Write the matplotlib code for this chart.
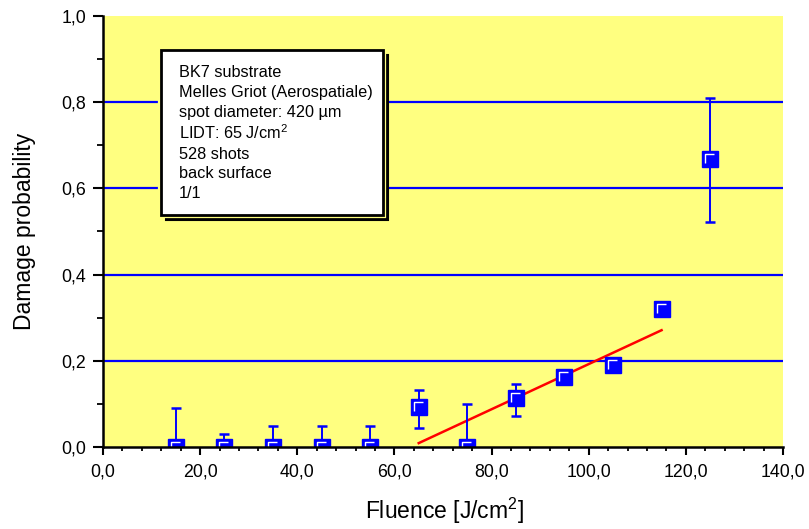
import matplotlib
matplotlib.use("Agg")
import matplotlib.pyplot as plt
from matplotlib.path import Path
from matplotlib.patches import Rectangle
from matplotlib.ticker import MultipleLocator, FuncFormatter
import matplotlib.transforms as mtransforms

plt.rcParams['font.family'] = ['Liberation Sans', 'DejaVu Sans']
plt.rcParams['mathtext.default'] = 'regular'

# Measured damage probability per fluence level
fluence = [15, 25, 35, 45, 55, 65, 75, 85, 95, 105, 115, 125]
probability = [0.0, 0.0, 0.0, 0.0, 0.0, 0.0935, 0.0, 0.113, 0.163, 0.19, 0.32, 0.668]
err_low = [0.0, 0.0, 0.0, 0.0, 0.0, 0.0485, 0.0, 0.04, 0.0, 0.0, 0.0, 0.145]
err_high = [0.091, 0.031, 0.049, 0.049, 0.049, 0.0385, 0.10, 0.033, 0.0, 0.0, 0.0, 0.142]

# Linear fit through the onset region
fit_x = [65, 115]
fit_y = [0.009, 0.271]

grid_levels = [0.2, 0.4, 0.6, 0.8]

info_lines = [
    "BK7 substrate",
    "Melles Griot (Aerospatiale)",
    "spot diameter: 420 \u00b5m",
    "LIDT: 65 J/cm$^{2}$",
    "528 shots",
    "back surface",
    "1/1",
]

BLUE = "#0000FF"
YELLOW = "#FFFF80"

W, H = 809, 529
fig = plt.figure(figsize=(W / 100, H / 100), dpi=100)
ax = fig.add_axes([103 / W, 1 - 447 / H, 680 / W, 431 / H])
ax.set_facecolor(YELLOW)

ax.set_xlim(0, 140)
ax.set_ylim(0, 1.0)

for lvl in grid_levels:
    ax.axhline(lvl, color=BLUE, lw=1.6, zorder=1)

ax.plot(fit_x, fit_y, color="#FF0000", lw=1.8, zorder=3)

ax.errorbar(fluence, probability, yerr=[err_low, err_high], fmt="none",
            ecolor=BLUE, elinewidth=1.4, capsize=3.3, capthick=1.8, zorder=4)

MS = 11.3
ax.plot(fluence, probability, ls="none", marker="s", ms=MS,
        mfc=BLUE, mec=BLUE, mew=1.0, zorder=5)

# white bevel highlight in the upper-left corner of each square
corner = Path([(1, 1), (-0.62, -0.45), (-0.62, 0.62), (0.45, 0.62)],
              [Path.MOVETO, Path.MOVETO, Path.LINETO, Path.LINETO])
ax.plot(fluence, probability, ls="none", marker=corner, ms=MS,
        mfc="none", mec="white", mew=1.0, zorder=6)

# axes styling
for side in ("top", "right"):
    ax.spines[side].set_visible(False)
for side in ("left", "bottom"):
    ax.spines[side].set_linewidth(1.8)
    ax.spines[side].set_zorder(7)

ax.xaxis.set_major_locator(MultipleLocator(20))
ax.xaxis.set_minor_locator(MultipleLocator(4))
ax.yaxis.set_major_locator(MultipleLocator(0.2))
ax.yaxis.set_minor_locator(MultipleLocator(0.1))

comma = FuncFormatter(lambda v, p: f"{v:.1f}".replace(".", ","))
ax.xaxis.set_major_formatter(comma)
ax.yaxis.set_major_formatter(comma)

ax.tick_params(axis="x", which="major", direction="out", length=6, width=1.5,
               pad=6, labelsize=12.8)
ax.tick_params(axis="x", which="minor", direction="out", length=3, width=1.3)
ax.tick_params(axis="y", which="major", direction="out", length=7, width=1.5,
               pad=5, labelsize=12.8)
ax.tick_params(axis="y", which="minor", direction="out", length=4, width=1.3)

ax.set_xlabel("Fluence [J/cm$^{2}$]", fontsize=16.5, va="center")
ax.xaxis.set_label_coords((444 - 103) / 680, (447 - 511) / 431)
ax.set_ylabel("Damage probability", fontsize=16.5, va="center")
ax.yaxis.set_label_coords((25 - 103) / 680, 0.5)

# info box with offset shadow
def px_to_axes(x, y):
    return (x - 103) / 680, (447 - y) / 431

bx0, by0 = px_to_axes(161, 215)
bx1, by1 = px_to_axes(383, 50)
shadow = mtransforms.offset_copy(ax.transAxes, fig=fig, x=5 * 0.72, y=-5 * 0.72, units="points")
ax.add_patch(Rectangle((bx0, by0), bx1 - bx0, by1 - by0, transform=shadow,
                       facecolor="black", edgecolor="black", lw=1.5, zorder=8))
ax.add_patch(Rectangle((bx0, by0), bx1 - bx0, by1 - by0, transform=ax.transAxes,
                       facecolor="none", edgecolor=YELLOW, lw=4.5, zorder=9))
ax.add_patch(Rectangle((bx0, by0), bx1 - bx0, by1 - by0, transform=ax.transAxes,
                       facecolor="white", edgecolor="black", lw=2.0, zorder=10))

baselines = [77, 97, 117, 139, 159, 178, 198]
for line, yb in zip(info_lines, baselines):
    tx, ty = px_to_axes(179, yb)
    ax.text(tx, ty, line, transform=ax.transAxes, fontsize=11.7,
            va="baseline", ha="left", zorder=11)

fig.savefig("out.png", dpi=100)
